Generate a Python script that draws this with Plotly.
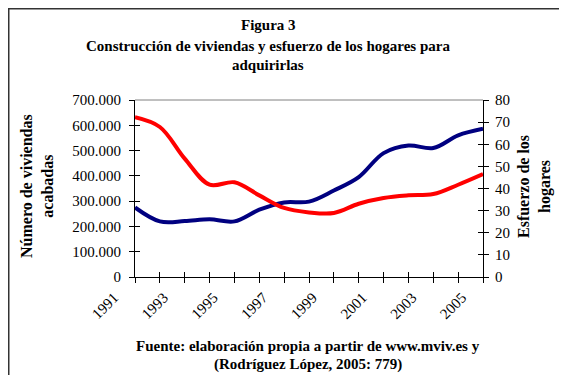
import plotly.graph_objects as go

years = list(range(1991, 2006))
viviendas = [275000, 220000, 221000, 228000, 220000, 266000, 295000, 298000, 342000, 395000,
             490000, 520000, 510000, 560000, 586000]
esfuerzo = [72.2, 67.8, 53.5, 41.7, 42.8, 36.9, 31.2, 29.2, 28.9, 33.1,
            35.7, 36.9, 37.5, 41.7, 46.5]
xtick_years = list(range(1991, 2006, 2))

FONT = "Liberation Serif, Times New Roman, Tinos, DejaVu Serif, serif"
L, R, T, B = 127, 92, 92, 106
W, H = 567, 375
PW, PH = W - L - R, H - T - B

def px(x):
    return (x - L) / PW

def py(y):
    return (H - B - y) / PH

fig = go.Figure()
fig.add_trace(go.Scatter(x=years, y=viviendas, mode="lines", yaxis="y",
                         line=dict(color="#000080", width=4, shape="spline", smoothing=1),
                         showlegend=False, hoverinfo="skip"))
fig.add_trace(go.Scatter(x=years, y=esfuerzo, mode="lines", yaxis="y2",
                         line=dict(color="#FF0000", width=4, shape="spline", smoothing=1),
                         showlegend=False, hoverinfo="skip"))
# helper traces for cross-tick overlay axes
fig.add_trace(go.Scatter(x=[None], y=[None], xaxis="x2", yaxis="y3", showlegend=False))
fig.add_trace(go.Scatter(x=[None], y=[None], xaxis="x2", yaxis="y4", showlegend=False))

tickfont = dict(family=FONT, size=15, color="black")
axcommon = dict(showgrid=False, zeroline=False, showline=True, linecolor="black", linewidth=1,
                tickcolor="black", ticklen=5, tickwidth=1)

fig.update_layout(
    width=W, height=H,
    margin=dict(l=L, r=R, t=T, b=B, pad=0),
    paper_bgcolor="white", plot_bgcolor="white",
    separators=",.",
    font=dict(family=FONT, color="black"),
    xaxis=dict(range=[1991, 2005], tickmode="array", tickvals=years,
               ticktext=[str(y) if y in xtick_years else "" for y in years],
               ticks="outside", tickangle=-45, tickfont=tickfont, ticklabelstandoff=0,
               ticklabelshift=-21, **axcommon),
    xaxis2=dict(range=[1991, 2005], overlaying="x", anchor="y", tickmode="array", tickvals=years,
                ticks="inside", showticklabels=False, **axcommon),
    yaxis=dict(range=[0, 700000], tickmode="linear", tick0=0, dtick=100000, tickformat=",d",
               ticks="outside", tickfont=tickfont, ticklabelstandoff=5, **axcommon),
    yaxis2=dict(range=[0, 80], tickmode="linear", tick0=0, dtick=10, overlaying="y", side="right",
                ticks="outside", tickfont=tickfont, ticklabelstandoff=3, **axcommon),
    yaxis3=dict(range=[0, 700000], overlaying="y", side="left", tickmode="linear", tick0=0,
                dtick=100000, ticks="inside", showticklabels=False, **axcommon),
    yaxis4=dict(range=[0, 80], overlaying="y", side="right", tickmode="linear", tick0=0,
                dtick=10, ticks="inside", showticklabels=False, **axcommon),
)

bold15 = dict(family=FONT, size=15, color="black")
bold16 = dict(family=FONT, size=16, color="black")

annots = [
    dict(text="<b>Figura 3</b>", x=px(260), y=py(17)),
    dict(text="<b>Construcción de viviendas y esfuerzo de los hogares para</b>", x=px(260), y=py(38)),
    dict(text="<b>adquirirlas</b>", x=px(260), y=py(57)),
    dict(text="<b>Fuente: elaboración propia a partir de www.mviv.es y</b>", x=px(300), y=py(338)),
    dict(text="<b>(Rodríguez López, 2005: 779)</b>", x=px(300), y=py(356)),
]
for a in annots:
    fig.add_annotation(xref="paper", yref="paper", showarrow=False, xanchor="center",
                       yanchor="middle", font=bold15, borderpad=0, **a)

fig.add_annotation(xref="paper", yref="paper", x=px(29), y=py(178), showarrow=False,
                   textangle=-90, xanchor="center", yanchor="middle", font=bold16, borderpad=0,
                   text="<b>Número de viviendas</b><br><b>acabadas</b>")
fig.add_annotation(xref="paper", yref="paper", x=px(526), y=py(179), showarrow=False,
                   textangle=-90, xanchor="center", yanchor="middle", font=bold16, borderpad=0,
                   text="<b>Esfuerzo de los</b><br><b>hogares</b>")

# plot top border and outer frame
fig.add_shape(type="line", xref="paper", yref="paper", x0=0, x1=1, y0=1, y1=1,
              line=dict(color="#808080", width=1))
fig.add_shape(type="line", xref="paper", yref="paper", x0=px(0.5), x1=px(0.5), y0=py(0), y1=py(375),
              line=dict(color="#333333", width=2))
fig.add_shape(type="line", xref="paper", yref="paper", x0=px(0), x1=px(567), y0=py(0.5), y1=py(0.5),
              line=dict(color="#333333", width=2))
fig.add_shape(type="line", xref="paper", yref="paper", x0=px(0), x1=px(567), y0=py(373.5), y1=py(373.5),
              line=dict(color="#808080", width=2))

fig.write_html("out.html")
